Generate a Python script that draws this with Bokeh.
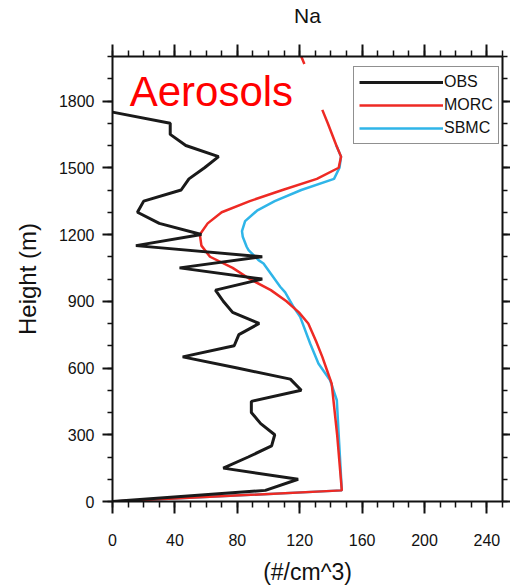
import numpy as np
from bokeh.plotting import figure
from bokeh.models import (FixedTicker, LinearAxis, Range1d, Label, Legend,
                          LegendItem, CustomLabelingPolicy)
from bokeh.embed import file_html
from bokeh.resources import INLINE

NAN = float("nan")

# ---- data -------------------------------------------------------------
obs_height = [0, 50, 100, 150, 200, 250, 300, 350, 400, 450, 500, 550, 600, 650,
              700, 750, 800, 850, 900, 950, 1000, 1050, 1100, 1150, 1200, 1250,
              1300, 1350, 1400, 1450, 1500, 1550, 1600, 1650, 1700, 1750]
obs_conc = [0, 98, 119, 71, 87, 102, 104, 95, 89, 89, 121, 114, 80, 45,
            78, 81, 94, 77, 71, 66, 96, 43, 96, 15, 57, 30,
            16, 20, 44, 49, 59, 68, 47, 37, 37, 0]

morc_height = [0, 50, 300, 530, 590, 650, 720, 800, 850, 900, 950, 1000, 1050,
               1100, 1150, 1200, 1250, 1300, 1350, 1400, 1450, 1500, 1550, 1600,
               1700, 1760, NAN, 1966, 2000]
morc_conc = [0, 147, 144, 140.5, 137.5, 134.5, 130.5, 125.5, 119.5, 111.5, 101.5,
             88, 77, 62.5, 57, 56, 61, 70, 88, 109, 131, 145, 146.5, 143.5,
             138, 134.5, NAN, 123, 121]

sbmc_height = [0, 50, 300, 455, 545, 590, 620, 710, 830, 875, 940, 965, 1070,
               1085, 1130, 1145, 1190, 1215, 1260, 1307, 1350, 1400, 1450, 1500,
               1550, 1600]
sbmc_conc = [0, 147, 145, 143.8, 139.5, 135, 132, 126.7, 120.3, 116, 110.7, 107.5,
             96.8, 93.6, 87.2, 86, 83.5, 83, 85, 92.6, 104, 121, 142, 145.5,
             146.5, 143.5]

x_ticks = [0, 40, 80, 120, 160, 200, 240]
x_minor = list(range(0, 251, 10))
y_ticks = [0, 300, 600, 900, 1200, 1500, 1800]
y_minor = list(range(0, 2001, 100))

FONT = "Liberation Sans"
INK = "#111111"

# ---- figure -----------------------------------------------------------
p = figure(width=510, height=587,
           x_range=Range1d(0, 250), y_range=Range1d(0, 2000),
           output_backend="svg", toolbar_location=None,
           min_border_left=112, min_border_right=8,
           min_border_top=55, min_border_bottom=86,
           x_axis_label="(#/cm^3)", y_axis_label="Height (m)")
p.xgrid.visible = False
p.ygrid.visible = False
p.outline_line_color = None
p.background_fill_color = "white"
p.border_fill_color = "white"


def style_axis(ax, ticks, minor, major_out, minor_out):
    ax.ticker = FixedTicker(ticks=ticks, minor_ticks=minor)
    ax.axis_line_width = 2
    ax.axis_line_color = INK
    ax.major_tick_in = 0
    ax.major_tick_out = major_out
    ax.minor_tick_in = 0
    ax.minor_tick_out = minor_out
    ax.major_tick_line_width = 2
    ax.minor_tick_line_width = 1.5
    ax.major_tick_line_color = INK
    ax.minor_tick_line_color = INK
    ax.major_label_text_font = FONT
    ax.major_label_text_font_size = "16px"
    ax.major_label_text_color = INK
    ax.axis_label_text_font = FONT
    ax.axis_label_text_font_style = "normal"
    ax.axis_label_text_color = INK


hide_labels = CustomLabelingPolicy(code="""
for (const i of indices) { indices.unset(i) }
return indices
""")

xa = p.xaxis[0]
style_axis(xa, x_ticks, x_minor, 12, 6)
xa.major_label_standoff = 20
xa.axis_label_text_font_size = "23px"
xa.axis_label_standoff = 10

ya = p.yaxis[0]
style_axis(ya, y_ticks, y_minor, 10, 5)
ya.major_label_standoff = 8
ya.axis_label_text_font_size = "24px"
ya.axis_label_standoff = 15

# top axis carries the panel title "Na"
top = LinearAxis(axis_label="Na")
style_axis(top, x_ticks, x_minor, 12, 6)
top.major_label_text_font_size = "0px"
top.major_label_standoff = 0
top.major_label_policy = hide_labels
top.axis_label_text_font_size = "21px"
top.axis_label_standoff = 18
p.add_layout(top, "above")

right = LinearAxis()
style_axis(right, y_ticks, y_minor, 8, 5)
right.major_label_text_font_size = "0px"
right.major_label_standoff = 0
right.major_label_policy = hide_labels
p.add_layout(right, "right")

# ---- lines ------------------------------------------------------------
r_sbmc = p.line(np.array(sbmc_conc), np.array(sbmc_height), line_color="#2fb5e8", line_width=2.5)
r_morc = p.line(np.array(morc_conc), np.array(morc_height), line_color="#ee2a24", line_width=2.5)
r_obs = p.line(np.array(obs_conc), np.array(obs_height), line_color="#1a1a1a", line_width=3)

p.add_layout(Label(x=11, y=1843, text="Aerosols", text_font=FONT,
                   text_font_size="42px", text_color="#ff0000",
                   text_baseline="middle", text_align="left"))

legend = Legend(items=[LegendItem(label="OBS", renderers=[r_obs]),
                       LegendItem(label="MORC", renderers=[r_morc]),
                       LegendItem(label="SBMC", renderers=[r_sbmc])],
                location=(241, 357))
legend.margin = 0
legend.padding = 5
legend.spacing = 3
legend.glyph_width = 84
legend.glyph_height = 20
legend.label_height = 20
legend.label_standoff = 1
legend.label_text_font = FONT
legend.label_text_font_size = "16px"
legend.label_text_color = INK
legend.border_line_color = "#222222"
legend.border_line_width = 1.5
legend.background_fill_alpha = 1.0
p.add_layout(legend)

open("out.html", "w").write(file_html(p, INLINE))
